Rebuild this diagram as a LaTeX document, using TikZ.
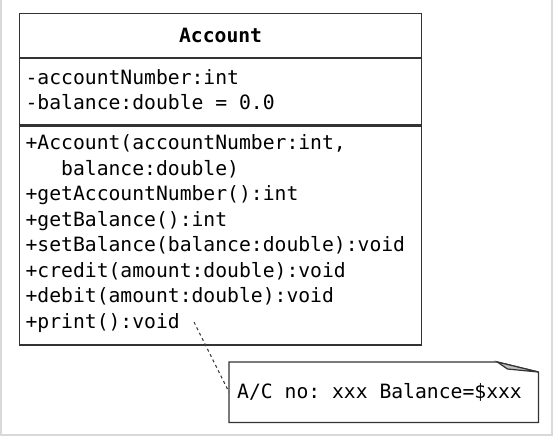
\documentclass[tikz,border=0pt]{standalone}
\usepackage{fontspec}
\setmonofont{DejaVu Sans Mono}
\usetikzlibrary{positioning}

\newcommand{\umlfont}{\ttfamily\fontsize{19.7}{25.5}\selectfont}

\tikzset{
  umlbox/.style={draw=black!80, line width=1.2pt, inner xsep=6pt, inner ysep=0pt,
    text width=390pt, font=\umlfont, execute at begin node={\spaceskip=\fontcharwd\font`x\relax}},
  raisetext/.style={execute at end node={\par\kern4pt\hrule height0pt width0pt}},
  notebox/.style={inner xsep=8pt, inner ysep=0pt, text width=293pt, align=flush left,
    minimum height=60pt, font=\umlfont, execute at begin node={\spaceskip=\fontcharwd\font`x\relax}},
  noteedge/.style={draw=black!80, line width=1.2pt, line join=miter},
  notelink/.style={draw=black!75, line width=1.1pt, dash pattern=on 3pt off 3pt},
}

\begin{document}
\begin{tikzpicture}[x=1pt,y=-1pt]
\useasboundingbox (0,0) rectangle (553,440);
% screenshot frame
\draw[black!15, line width=1.5pt] (1,0) -- (1,435) -- (552,435) -- (552,0);

% class box
\node[umlbox, align=center, minimum height=44pt, anchor=north west, font=\umlfont\bfseries] (title) at (19,13) {Account};
\node[umlbox, raisetext, align=flush left, minimum height=66pt, below=0pt of title] (fields)
  {-accountNumber:int\\-balance:double = 0.0};
\node[umlbox, raisetext, align=flush left, minimum height=219pt, below=0pt of fields] (methods)
  {+Account(accountNumber:int,\\
   \phantom{xxx}balance:double)\\
   +getAccountNumber():int\\
   +getBalance():int\\
   +setBalance(balance:double):void\\
   +credit(amount:double):void\\
   +debit(amount:double):void\\
   +print():void};

% note
\node[notebox, anchor=north west] (note) at (229,362) {A/C no: xxx Balance=\$xxx};
\draw[noteedge] (note.north west) -- ([xshift=-41pt]note.north east)
  -- ([yshift=-10pt]note.north east) -- (note.south east) -- (note.south west) -- cycle;
\filldraw[noteedge, fill=black!25] ([xshift=-41pt]note.north east)
  -- ([xshift=-31pt,yshift=-7pt]note.north east) -- ([yshift=-10pt]note.north east) -- cycle;

\coordinate (printend) at (194,322);
\draw[notelink] (printend) -- (note.west);
\end{tikzpicture}
\end{document}
